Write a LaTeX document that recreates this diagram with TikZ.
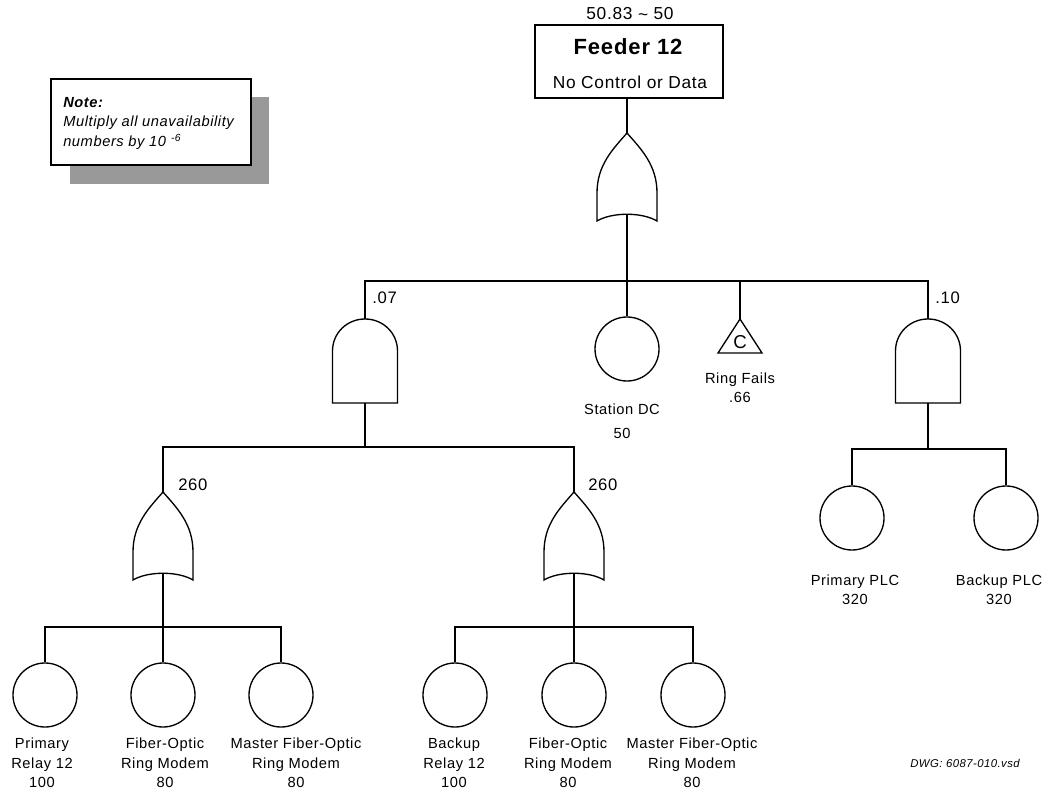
\documentclass[tikz,border=0pt]{standalone}
\usepackage{fontspec}
\setmainfont{Liberation Sans}[LetterSpace=4]
\begin{document}
\begin{tikzpicture}[x=0.75pt,y=-0.75pt,
  ln/.style={line width=1pt,black},
  evt/.style={circle,draw,line width=1pt,minimum size=48pt,inner sep=0pt},
  lab/.style={align=center,inner sep=0pt,font=\fontsize{11}{14.6}\selectfont},
  glab/.style={anchor=west,inner sep=0pt,font=\fontsize{12.5}{14}\selectfont},
  orgate/.pic={
    \draw[ln] (0,0) .. controls (14,16) and (30,32) .. (30,60) -- (30,88)
      .. controls (15,79) and (-15,79) .. (-30,88) -- (-30,60)
      .. controls (-30,32) and (-14,16) .. (0,0) -- cycle;
    \coordinate (-top) at (0,0);
    \coordinate (-bot) at (0,81);
  },
  andgate/.pic={
    \draw[ln] (-32.5,84) -- (-32.5,32) .. controls (-32.5,14) and (-18,0) .. (0,0)
      .. controls (18,0) and (32.5,14) .. (32.5,32) -- (32.5,84) -- cycle;
    \coordinate (-top) at (0,0);
    \coordinate (-bot) at (0,84);
  },
  cevent/.pic={
    \draw[ln] (0,0) -- (22,34) -- (-22,34) -- cycle;
    \node[inner sep=0pt,font=\fontsize{14}{15}\selectfont] (-c) at (0,23) {C};
    \coordinate (-top) at (0,0);
  }
]
\useasboundingbox (0,0) rectangle (1049,795);

% note box with shadow
\fill[black!40] (70,97) rectangle (269,184);
\draw[ln,fill=white] (51,79) rectangle (251,165);
\node[anchor=west,inner sep=0pt,font=\fontsize{11}{12}\selectfont\bfseries\itshape] (notet) at (63,103) {Note:};
\node[anchor=west,inner sep=0pt,font=\fontsize{11}{12}\selectfont\itshape] (note1) at (63,123) {Multiply all unavailability};
\node[anchor=west,inner sep=0pt,font=\fontsize{11}{12}\selectfont\itshape] (note2) at (63,142) {numbers by 10\,\,\textsuperscript{-6}};

% top event
\node[draw,line width=1pt,minimum width=141pt,minimum height=54.75pt,inner sep=0pt] (feeder) at (629,61.5) {};
\node[inner sep=0pt,font=\fontsize{13}{14}\selectfont] (topval) at (630,14) {50.83 \raisebox{-0.15ex}{\textasciitilde} 50};
\node[inner sep=0pt,font=\fontsize{16.5}{18}\selectfont\bfseries] (feedt) at (628,47) {Feeder 12};
\node[inner sep=0pt,font=\fontsize{13}{14}\selectfont] (feeds) at (630,82) {No Control or Data};

% gates
\pic (og1) at (627,133) {orgate};
\pic (ag1) at (365,319) {andgate};
\pic (ag2) at (928,319) {andgate};
\pic (og2) at (163,492) {orgate};
\pic (og3) at (574,492) {orgate};
\pic (tri) at (740,319) {cevent};

% basic events
\node[evt] (dc) at (627,349) {};
\node[evt] (p1) at (852,518) {};
\node[evt] (p2) at (1006,518) {};
\node[evt] (c1) at (45,695) {};
\node[evt] (c2) at (163,695) {};
\node[evt] (c3) at (281,695) {};
\node[evt] (c4) at (455,695) {};
\node[evt] (c5) at (574,695) {};
\node[evt] (c6) at (693,695) {};

% bus coordinates
\coordinate (b1) at (627,281);
\coordinate (b2) at (365,447);
\coordinate (b3) at (163,627);
\coordinate (b4) at (574,627);
\coordinate (b5) at (928,449);

% connectors
\draw[ln] (og1-top |- feeder.south) -- (og1-top);
\draw[ln] (og1-bot) -- (b1);
\draw[ln] (ag1-top) |- (b1) -| (ag2-top);
\draw[ln] (dc.north) -- (dc.north |- b1);
\draw[ln] (tri-top) -- (tri-top |- b1);
\draw[ln] (ag1-bot) -- (b2);
\draw[ln] (og2-top) |- (b2) -| (og3-top);
\draw[ln] (og2-bot) -- (b3);
\draw[ln] (c1.north) |- (b3) -| (c3.north);
\draw[ln] (c2.north) -- (b3);
\draw[ln] (og3-bot) -- (b4);
\draw[ln] (c4.north) |- (b4) -| (c6.north);
\draw[ln] (c5.north) -- (b4);
\draw[ln] (ag2-bot) -- (b5);
\draw[ln] (p1.north) |- (b5) -| (p2.north);

% gate labels
\node[glab] (l07) at (372,298) {.07};
\node[glab] (l10) at (935,298) {.10};
\node[glab] (l260a) at (178,485) {260};
\node[glab] (l260b) at (588,485) {260};

% event labels
\node[lab] (dcl) at (622,421) {Station DC\\[3.5pt]50};
\node[lab] (trl) at (740,388) {Ring Fails\\.66};
\node[lab] (p1l) at (855,590) {Primary PLC\\320};
\node[lab] (p2l) at (999,590) {Backup PLC\\320};
\node[lab] (c1l) at (42,763) {Primary\\Relay 12\\100};
\node[lab] (c2l) at (165,763) {Fiber-Optic\\Ring Modem\\80};
\node[lab] (c3l) at (296,763) {Master Fiber-Optic\\Ring Modem\\80};
\node[lab] (c4l) at (454,763) {Backup\\Relay 12\\100};
\node[lab] (c5l) at (568,763) {Fiber-Optic\\Ring Modem\\80};
\node[lab] (c6l) at (692,763) {Master Fiber-Optic\\Ring Modem\\80};

\node[anchor=west,inner sep=0pt,font=\fontsize{8.5}{10}\selectfont\itshape] (dwg) at (910,763) {DWG: 6087-010.vsd};
\end{tikzpicture}
\end{document}
